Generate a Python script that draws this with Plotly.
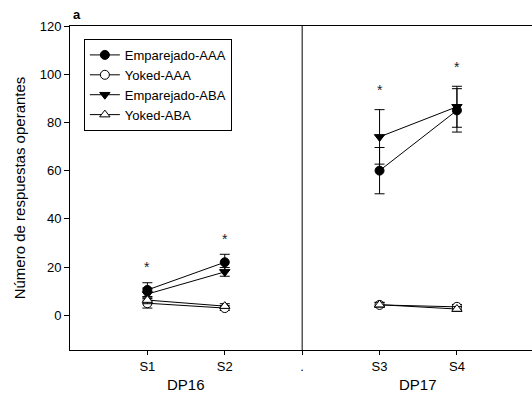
import plotly.graph_objects as go

# ---- data ----
sessions_x = [1, 2, 4, 5]
tick_vals = [1, 2, 3, 4, 5]
tick_text = ["S1", "S2", ".", "S3", "S4"]

emp_aaa = [10.5, 22.0, 60.0, 85.0]
emp_aaa_err = [3.0, 3.3, 9.6, 9.0]
yok_aaa = [5.0, 3.0, 4.3, 3.5]
yok_aaa_err = [2.0, 1.0, 1.0, 1.0]
emp_aba = [8.8, 18.0, 74.0, 86.5]
emp_aba_err = [2.5, 1.8, 11.3, 8.5]
yok_aba = [6.3, 3.8, 4.4, 2.6]
yok_aba_err = [1.5, 1.0, 1.0, 1.0]

star_x = [1, 2, 4, 5]
star_y = [20, 31.5, 93.5, 103]

fig = go.Figure()

def add(name, y, err, symbol, fill):
    fig.add_trace(go.Scatter(
        x=sessions_x[:2], y=y[:2], name=name, mode="lines+markers",
        line=dict(color="black", width=1),
        marker=dict(symbol=symbol, size=9, color=fill, line=dict(color="black", width=1)),
        error_y=dict(type="data", array=err[:2], color="black", thickness=1, width=5),
        legendgroup=name, showlegend=True))
    fig.add_trace(go.Scatter(
        x=sessions_x[2:], y=y[2:], name=name, mode="lines+markers",
        line=dict(color="black", width=1),
        marker=dict(symbol=symbol, size=9, color=fill, line=dict(color="black", width=1)),
        error_y=dict(type="data", array=err[2:], color="black", thickness=1, width=5),
        legendgroup=name, showlegend=False))

add("Emparejado-AAA", emp_aaa, emp_aaa_err, "circle", "black")
add("Yoked-AAA", yok_aaa, yok_aaa_err, "circle", "white")
add("Emparejado-ABA", emp_aba, emp_aba_err, "triangle-down", "black")
add("Yoked-ABA", yok_aba, yok_aba_err, "triangle-up", "white")

for sx, sy in zip(star_x, star_y):
    fig.add_annotation(x=sx, y=sy, text="*", showarrow=False,
                       font=dict(size=14, color="#222"), xref="x", yref="y")

fig.add_shape(type="line", x0=3, x1=3, y0=0, y1=1, xref="x", yref="paper",
              line=dict(color="black", width=1))

fig.add_annotation(x=1.5, y=-0.075, xref="x", yref="paper", yanchor="top",
                   text="DP16", showarrow=False, font=dict(size=15, color="black"))
fig.add_annotation(x=4.5, y=-0.075, xref="x", yref="paper", yanchor="top",
                   text="DP17", showarrow=False, font=dict(size=15, color="black"))
fig.add_annotation(x=0, y=1, xref="paper", yref="paper", xanchor="left", yanchor="bottom",
                   xshift=1, yshift=2,
                   text="<b>a</b>", showarrow=False, font=dict(size=13, color="black"))

fig.update_layout(
    width=532, height=413,
    margin=dict(l=70, r=0, t=26, b=63),
    paper_bgcolor="white", plot_bgcolor="white",
    font=dict(family="Liberation Sans, Arial, sans-serif", size=12, color="black"),
    showlegend=True,
    legend=dict(x=0.03, y=0.96, xanchor="left", yanchor="top",
                bordercolor="black", borderwidth=1, bgcolor="white",
                font=dict(size=13), tracegroupgap=0, itemwidth=30),
    xaxis=dict(range=[0, 5.97], tickvals=tick_vals, ticktext=tick_text,
               showgrid=False, zeroline=False, showline=True, linecolor="black",
               linewidth=1, mirror=True, ticks="outside", ticklen=4, tickcolor="black",
               tickfont=dict(size=13)),
    yaxis=dict(range=[-14.4, 120], tickvals=[0, 20, 40, 60, 80, 100, 120],
               showgrid=False, zeroline=False, showline=True, linecolor="black",
               linewidth=1, ticks="outside", ticklen=5, tickcolor="black",
               tickfont=dict(size=13),
               title=dict(text="Número de respuestas operantes", font=dict(size=15), standoff=10)),
)

fig.write_html("out.html")
